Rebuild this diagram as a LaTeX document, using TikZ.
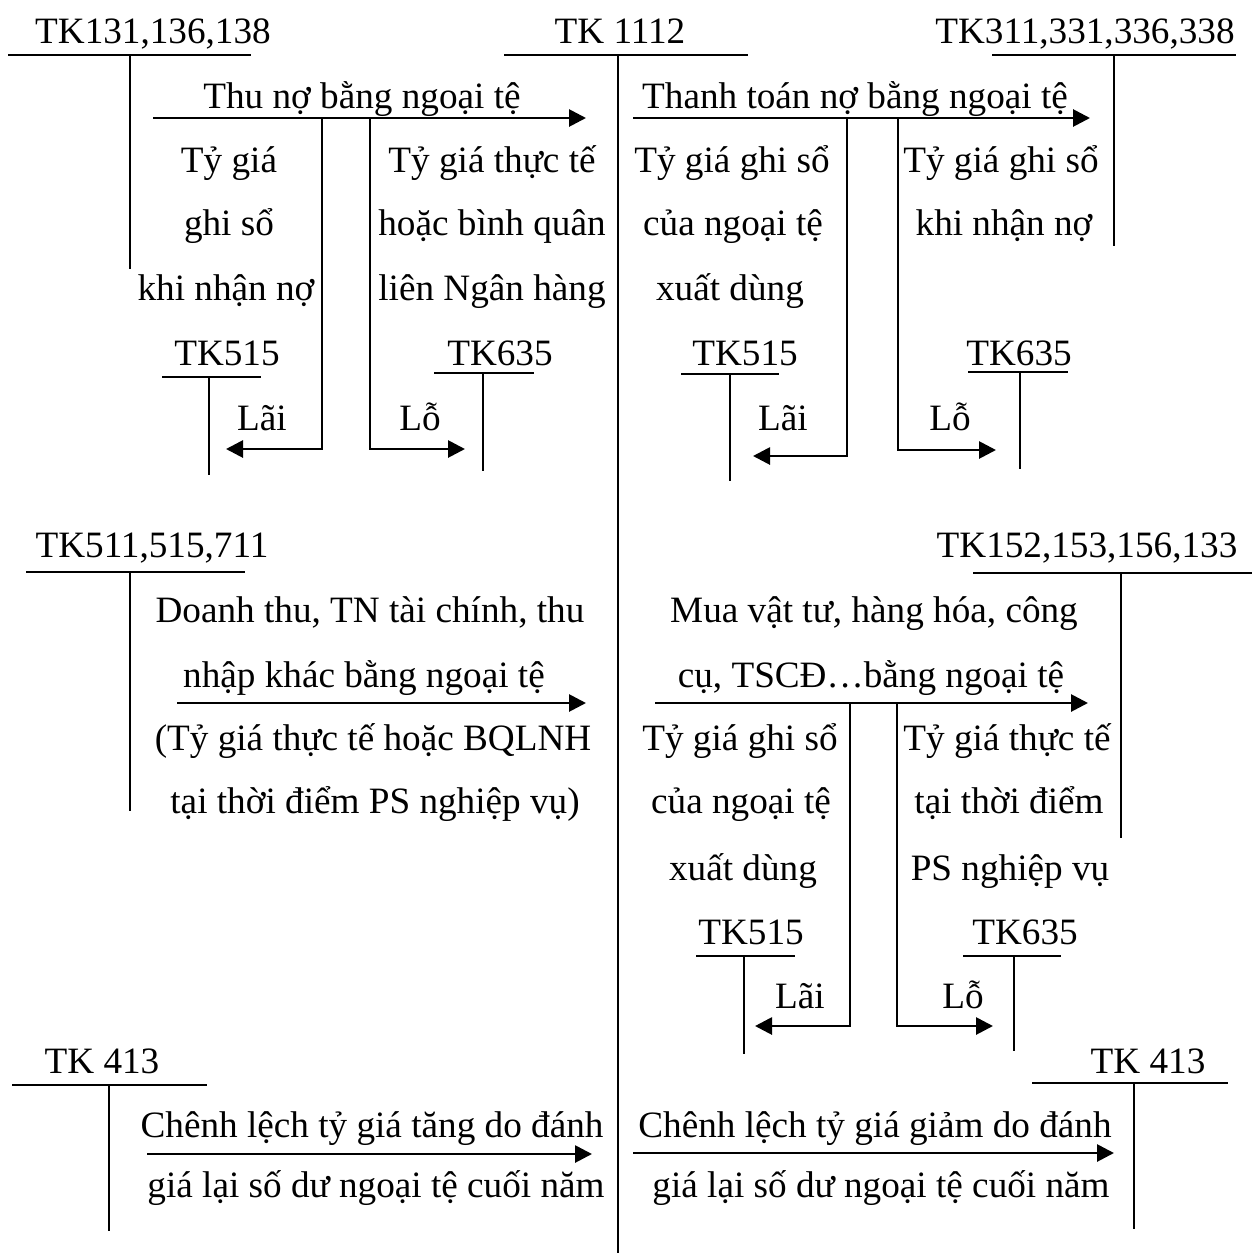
\documentclass[tikz,border=0pt]{standalone}
\usepackage{fontspec}
\setmainfont{Liberation Serif}
\usetikzlibrary{arrows.meta}
\tikzset{
  lbl/.style={anchor=base, inner sep=0pt, font=\fontsize{18.6}{20}\selectfont},
  tline/.style={line width=1pt, line cap=rect},
  arr/.style={line width=1.4pt, -{Triangle[length=8.5pt,width=8.5pt]}},
}
\begin{document}
\begin{tikzpicture}[x=0.5pt,y=-0.5pt]
\useasboundingbox (0,0) rectangle (1252,1253);
% ===== T-accounts (top row) =====
\node[lbl] (tk131) at (153,43) {TK131,136,138};
\coordinate (tk131l) at (9,55); \coordinate (tk131r) at (250,55);
\coordinate (tk131t) at (130,55); \coordinate (tk131b) at (130,268);
\draw[tline] (tk131l) -- (tk131r); \draw[tline] (tk131t) -- (tk131b);

\node[lbl] (tk1112) at (620,43) {TK 1112};
\coordinate (tk1112l) at (505,55); \coordinate (tk1112r) at (747,55);
\coordinate (tk1112t) at (618,55); \coordinate (tk1112b) at (618,1253);
\draw[tline] (tk1112l) -- (tk1112r); \draw[line width=0.9pt] (tk1112t) -- (tk1112b);

\node[lbl] (tk311) at (1085,43) {TK311,331,336,338};
\coordinate (tk311l) at (993,55); \coordinate (tk311r) at (1235,55);
\coordinate (tk311t) at (1114,55); \coordinate (tk311b) at (1114,245);
\draw[tline] (tk311l) -- (tk311r); \draw[tline] (tk311t) -- (tk311b);

% top-left arrow
\node[lbl] (thuno) at (362,108) {Thu nợ bằng ngoại tệ};
\coordinate (a1s) at (153,118); \coordinate (a1e) at (586,118);
\draw[arr] (a1s) -- (a1e);
\node[lbl] (c1a) at (229,172) {Tỷ giá};
\node[lbl] (c1b) at (229,235) {ghi sổ};
\node[lbl] (c1c) at (226,300) {khi nhận nợ};
\node[lbl] (c2a) at (492,172) {Tỷ giá thực tế};
\node[lbl] (c2b) at (492,235) {hoặc bình quân};
\node[lbl] (c2c) at (492,300) {liên Ngân hàng};

% top-right arrow
\node[lbl] (thanhtoan) at (855,108) {Thanh toán nợ bằng ngoại tệ};
\coordinate (a2s) at (633,118); \coordinate (a2e) at (1090,118);
\draw[arr] (a2s) -- (a2e);
\node[lbl] (c3a) at (732,172) {Tỷ giá ghi sổ};
\node[lbl] (c3b) at (733,235) {của ngoại tệ};
\node[lbl] (c3c) at (730,300) {xuất dùng};
\node[lbl] (c4a) at (1001,172) {Tỷ giá ghi sổ};
\node[lbl] (c4b) at (1004,235) {khi nhận nợ};

% TK515 / TK635 (top-left)
\node[lbl] (tk515a) at (227,365) {TK515};
\coordinate (tk515al) at (163,377); \coordinate (tk515ar) at (260,377);
\coordinate (tk515at) at (209,377); \coordinate (tk515ab) at (209,474);
\draw[tline] (tk515al) -- (tk515ar); \draw[tline] (tk515at) -- (tk515ab);
\node[lbl] (tk635a) at (500,365) {TK635};
\coordinate (tk635al) at (435,373); \coordinate (tk635ar) at (533,373);
\coordinate (tk635at) at (483,373); \coordinate (tk635ab) at (483,470);
\draw[tline] (tk635al) -- (tk635ar); \draw[tline] (tk635at) -- (tk635ab);
\coordinate (b1s) at (322,118); \coordinate (b1e) at (226,449);
\draw[arr] (b1s) |- (b1e);
\coordinate (b2s) at (370,118); \coordinate (b2e) at (465,449);
\draw[arr] (b2s) |- (b2e);
\node[lbl] (lai1) at (262,430) {Lãi};
\node[lbl] (lo1) at (420,430) {Lỗ};

% TK515 / TK635 (top-right)
\node[lbl] (tk515b) at (745,365) {TK515};
\coordinate (tk515bl) at (682,374); \coordinate (tk515br) at (778,374);
\coordinate (tk515bt) at (730,374); \coordinate (tk515bb) at (730,480);
\draw[tline] (tk515bl) -- (tk515br); \draw[tline] (tk515bt) -- (tk515bb);
\node[lbl] (tk635b) at (1019,365) {TK635};
\coordinate (tk635bl) at (969,372); \coordinate (tk635br) at (1067,372);
\coordinate (tk635bt) at (1020,372); \coordinate (tk635bb) at (1020,468);
\draw[tline] (tk635bl) -- (tk635br); \draw[tline] (tk635bt) -- (tk635bb);
\coordinate (b3s) at (847,118); \coordinate (b3e) at (753,456);
\draw[arr] (b3s) |- (b3e);
\coordinate (b4s) at (898,118); \coordinate (b4e) at (996,450);
\draw[arr] (b4s) |- (b4e);
\node[lbl] (lai2) at (783,430) {Lãi};
\node[lbl] (lo2) at (950,430) {Lỗ};

% ===== middle row =====
\node[lbl] (tk511) at (152,557) {TK511,515,711};
\coordinate (tk511l) at (27,572); \coordinate (tk511r) at (244,572);
\coordinate (tk511t) at (130,572); \coordinate (tk511b) at (130,810);
\draw[tline] (tk511l) -- (tk511r); \draw[tline] (tk511t) -- (tk511b);
\node[lbl] (dt1) at (370,622) {Doanh thu, TN tài chính, thu};
\node[lbl] (dt2) at (364,687) {nhập khác bằng ngoại tệ};
\coordinate (a3s) at (177,703); \coordinate (a3e) at (586,703);
\draw[arr] (a3s) -- (a3e);
\node[lbl] (dt3) at (373,750) {(Tỷ giá thực tế hoặc BQLNH};
\node[lbl] (dt4) at (375,813) {tại thời điểm PS nghiệp vụ)};

\node[lbl] (tk152) at (1087,557) {TK152,153,156,133};
\coordinate (tk152l) at (974,573); \coordinate (tk152r) at (1252,573);
\coordinate (tk152t) at (1121,573); \coordinate (tk152b) at (1121,837);
\draw[tline] (tk152l) -- (tk152r); \draw[tline] (tk152t) -- (tk152b);
\node[lbl] (mua1) at (874,622) {Mua vật tư, hàng hóa, công};
\node[lbl] (mua2) at (871,687) {cụ, TSCĐ…bằng ngoại tệ};
\coordinate (a4s) at (655,703); \coordinate (a4e) at (1088,703);
\draw[arr] (a4s) -- (a4e);
\node[lbl] (c5a) at (740,750) {Tỷ giá ghi sổ};
\node[lbl] (c5b) at (741,813) {của ngoại tệ};
\node[lbl] (c5c) at (743,880) {xuất dùng};
\node[lbl] (c6a) at (1007,750) {Tỷ giá thực tế};
\node[lbl] (c6b) at (1009,813) {tại thời điểm};
\node[lbl] (c6c) at (1010,880) {PS nghiệp vụ};

\node[lbl] (tk515c) at (751,944) {TK515};
\coordinate (tk515cl) at (697,956); \coordinate (tk515cr) at (794,956);
\coordinate (tk515ct) at (744,956); \coordinate (tk515cb) at (744,1053);
\draw[tline] (tk515cl) -- (tk515cr); \draw[tline] (tk515ct) -- (tk515cb);
\node[lbl] (tk635c) at (1025,944) {TK635};
\coordinate (tk635cl) at (964,956); \coordinate (tk635cr) at (1060,956);
\coordinate (tk635ct) at (1014,956); \coordinate (tk635cb) at (1014,1050);
\draw[tline] (tk635cl) -- (tk635cr); \draw[tline] (tk635ct) -- (tk635cb);
\coordinate (b5s) at (850,703); \coordinate (b5e) at (755,1026);
\draw[arr] (b5s) |- (b5e);
\coordinate (b6s) at (897,703); \coordinate (b6e) at (993,1026);
\draw[arr] (b6s) |- (b6e);
\node[lbl] (lai3) at (800,1008) {Lãi};
\node[lbl] (lo3) at (963,1008) {Lỗ};

% ===== bottom row =====
\node[lbl] (tk413a) at (102,1073) {TK 413};
\coordinate (tk413al) at (13,1085); \coordinate (tk413ar) at (206,1085);
\coordinate (tk413at) at (109,1085); \coordinate (tk413ab) at (109,1230);
\draw[tline] (tk413al) -- (tk413ar); \draw[tline] (tk413at) -- (tk413ab);
\node[lbl] (cl1) at (372,1137) {Chênh lệch tỷ giá tăng do đánh};
\coordinate (a5s) at (147,1154); \coordinate (a5e) at (592,1154);
\draw[arr] (a5s) -- (a5e);
\node[lbl] (cl2) at (376,1197) {giá lại số dư ngoại tệ cuối năm};

\node[lbl] (tk413b) at (1148,1073) {TK 413};
\coordinate (tk413bl) at (1033,1083); \coordinate (tk413br) at (1227,1083);
\coordinate (tk413bt) at (1134,1083); \coordinate (tk413bb) at (1134,1228);
\draw[tline] (tk413bl) -- (tk413br); \draw[tline] (tk413bt) -- (tk413bb);
\node[lbl] (cl3) at (875,1137) {Chênh lệch tỷ giá giảm do đánh};
\coordinate (a6s) at (633,1153); \coordinate (a6e) at (1114,1153);
\draw[arr] (a6s) -- (a6e);
\node[lbl] (cl4) at (881,1197) {giá lại số dư ngoại tệ cuối năm};
\end{tikzpicture}
\end{document}
